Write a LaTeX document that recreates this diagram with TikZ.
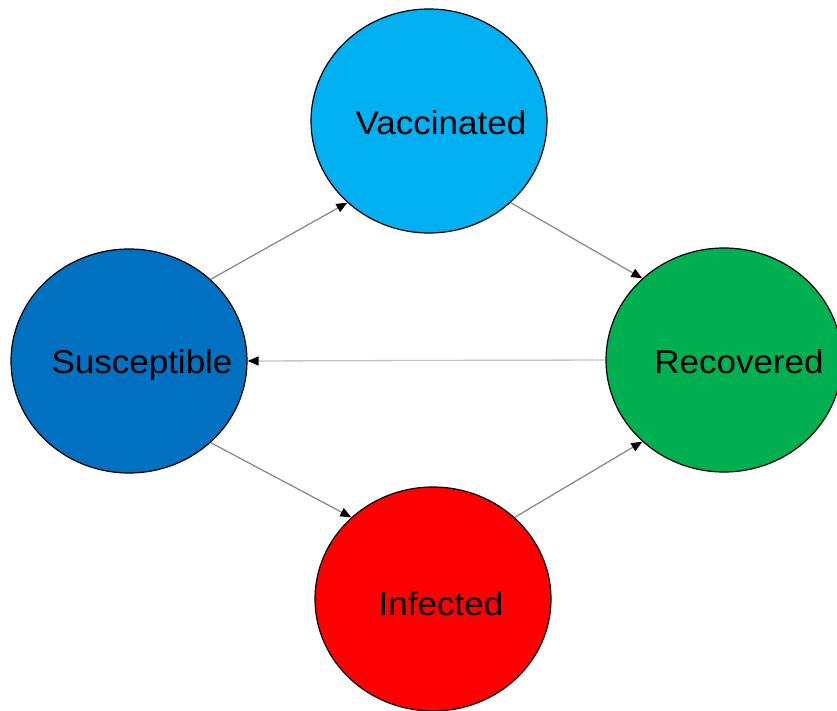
\documentclass[tikz,border=0pt]{standalone}
\usepackage{fontspec}
\setmainfont{Liberation Sans}
\usetikzlibrary{shapes.geometric,arrows.meta}
\definecolor{vacc}{HTML}{00B0F0}
\definecolor{susc}{HTML}{0070C0}
\definecolor{reco}{HTML}{00B050}
\definecolor{infe}{HTML}{FF0000}
\definecolor{linegray}{HTML}{8C8C8C}
\definecolor{lightgray}{HTML}{C4C4C4}
\tikzset{
  state/.style={ellipse, draw=black, line width=1.2pt, minimum width=236pt, minimum height=224pt, inner sep=0pt},
  statelabel/.style={anchor=base, inner sep=0pt, font=\fontsize{35}{40}\selectfont},
  flow/.style={draw=linegray, line width=1.3pt, -{Triangle[length=11pt,width=9pt,color=black]}}
}
\newcommand{\squash}[1]{\scalebox{1}[0.94]{#1}}
\begin{document}
\begin{tikzpicture}
\path[use as bounding box, fill=white] (0,0) rectangle (837pt,-711pt);
\node[state, fill=vacc] (V) at (429pt,-121pt) {};
\node[state, fill=susc] (S) at (129pt,-361pt) {};
\node[state, fill=reco] (R) at (724pt,-360pt) {};
\node[state, fill=infe] (I) at (433pt,-599pt) {};
\node[statelabel] (Vt) at (441pt,-135pt) {\squash{Vaccinated}};
\node[statelabel] (St) at (142pt,-373pt) {\squash{Susceptible}};
\node[statelabel] (Rt) at (739pt,-373pt) {\squash{Recovered}};
\node[statelabel] (It) at (441pt,-615pt) {\squash{Infected}};
\draw[flow] (S.45) -- (V.225);
\draw[flow] (V.-45) -- (R.135);
\draw[flow] (S.-45) -- (I.135);
\draw[flow] (I.45) -- (R.225);
\draw[flow, draw=lightgray] (R.180) -- (S.0);
\end{tikzpicture}
\end{document}
